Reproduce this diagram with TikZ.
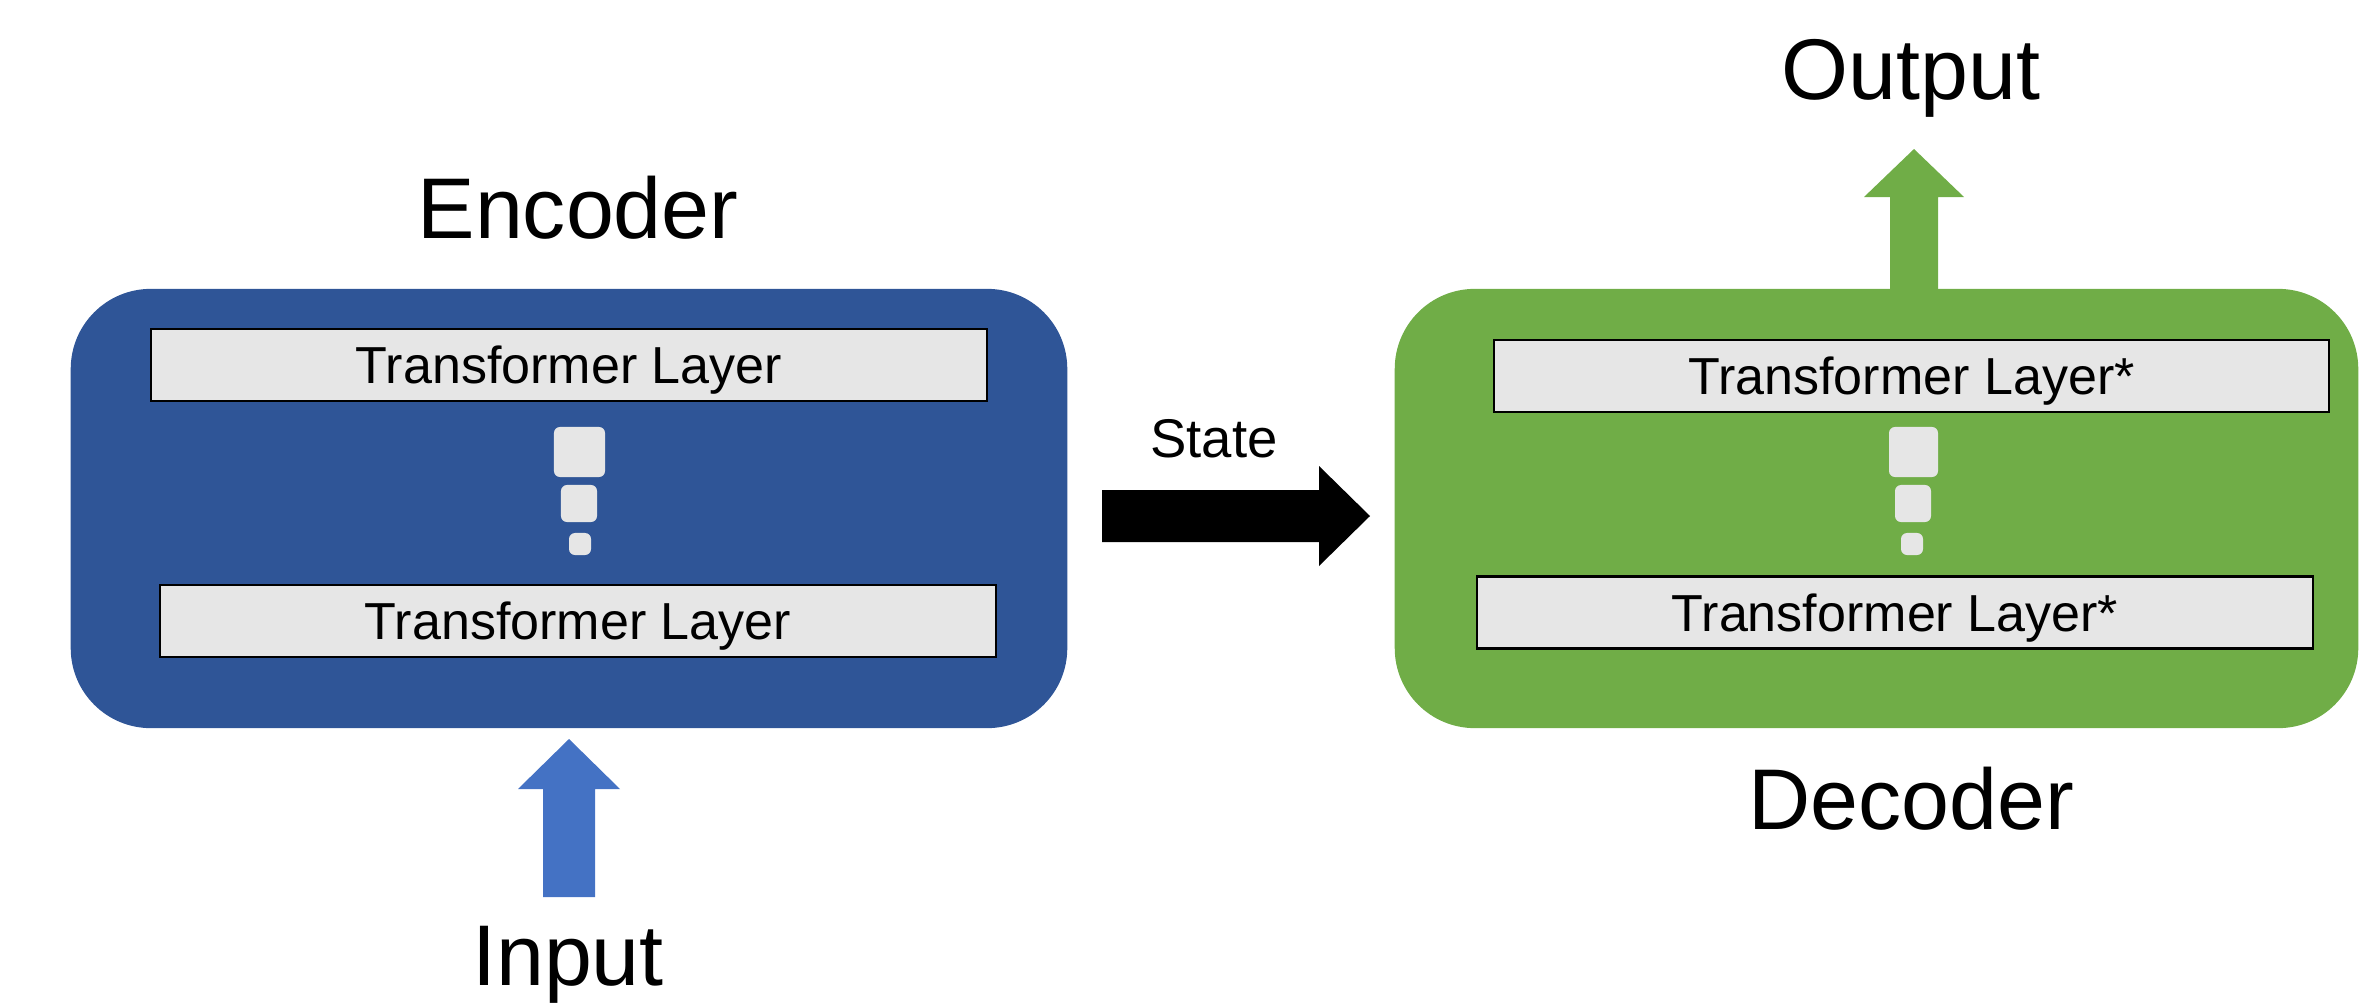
\documentclass[tikz,border=0pt]{standalone}
\usepackage{fontspec}
\setmainfont{Liberation Sans}
\usetikzlibrary{calc}
\definecolor{encblue}{HTML}{2F5597}
\definecolor{decgreen}{HTML}{70AD47}
\definecolor{inblue}{HTML}{4472C4}
\definecolor{layergray}{HTML}{E6E6E6}
\tikzset{
  block/.style={rounded corners=0.8cm, inner sep=0pt},
  layer/.style={draw=black, line width=0.6pt, fill=layergray, inner sep=0pt,
    minimum width=8.35cm, minimum height=0.72cm, text depth=0pt,
    font=\fontsize{14.8}{17}\selectfont},
  dotsq/.style={fill=layergray, rounded corners=0.06cm, inner sep=0pt},
  biglbl/.style={font=\fontsize{24.5}{28}\selectfont, inner sep=0pt, anchor=base},
  smalllbl/.style={font=\fontsize{15.5}{18}\selectfont, inner sep=0pt, anchor=base}
}
\begin{document}
\begin{tikzpicture}[x=0.01cm, y=-0.01cm]
\useasboundingbox (0,0) rectangle (2360,1003);

% encoder and decoder blocks
\node[block, fill=encblue, minimum width=9.96cm, minimum height=4.39cm] (enc) at (569,508.5) {};
\node[block, fill=decgreen, minimum width=9.63cm, minimum height=4.39cm] (dec) at (1876.5,508.5) {};

% transformer layers
\node[layer] (e1) at (569,365) {Transformer Layer};
\node[layer] (e2) at (578,621) {Transformer Layer};
\node[layer] (d1) at (1911.5,376) {Transformer Layer*};
\node[layer] (d2) at (1895,612.5) {Transformer Layer*};

% vertical ellipsis squares
\node[dotsq, minimum width=0.51cm, minimum height=0.50cm] (ed1) at (579.5,452) {};
\node[dotsq, minimum width=0.36cm, minimum height=0.37cm] (ed2) at (579,503.5) {};
\node[dotsq, minimum width=0.22cm, minimum height=0.22cm] (ed3) at (580,544) {};
\node[dotsq, minimum width=0.49cm, minimum height=0.50cm] (dd1) at (1913.5,452) {};
\node[dotsq, minimum width=0.36cm, minimum height=0.37cm] (dd2) at (1913,503.5) {};
\node[dotsq, minimum width=0.22cm, minimum height=0.22cm] (dd3) at (1912,544) {};

% labels
\node[biglbl] (enclbl) at (578,238) {Encoder};
\node[biglbl] (declbl) at (1911,829) {Decoder};
\node[biglbl] (outlbl) at (1911,99) {Output};
\node[biglbl] (inlbl) at (568,985) {Input};
\node[smalllbl] (statelbl) at (1214,457) {State};

% input arrow
\coordinate (inBase) at (569,897);
\coordinate (inTip) at (569,739);
\fill[inblue] ($(inBase)+(-26,0)$) -- ($(inTip)+(-26,50)$) -- ($(inTip)+(-51,50)$)
  -- (inTip) -- ($(inTip)+(51,50)$) -- ($(inTip)+(26,50)$) -- ($(inBase)+(26,0)$) -- cycle;

% state arrow
\coordinate (stBase) at (1102,516);
\coordinate (stTip) at (1370,516);
\fill[black] ($(stBase)+(0,-26)$) -- ($(stTip)+(-51,-26)$) -- ($(stTip)+(-51,-50)$)
  -- (stTip) -- ($(stTip)+(-51,50)$) -- ($(stTip)+(-51,26)$) -- ($(stBase)+(0,26)$) -- cycle;

% output arrow
\coordinate (outBase) at ($(dec.north)+(37.5,0)$);
\coordinate (outTip) at (1914,149);
\fill[decgreen] ($(outBase)+(-24,1)$) -- ($(outTip)+(-24,48)$) -- ($(outTip)+(-50,48)$)
  -- (outTip) -- ($(outTip)+(50,48)$) -- ($(outTip)+(24,48)$) -- ($(outBase)+(24,1)$) -- cycle;
\end{tikzpicture}
\end{document}
